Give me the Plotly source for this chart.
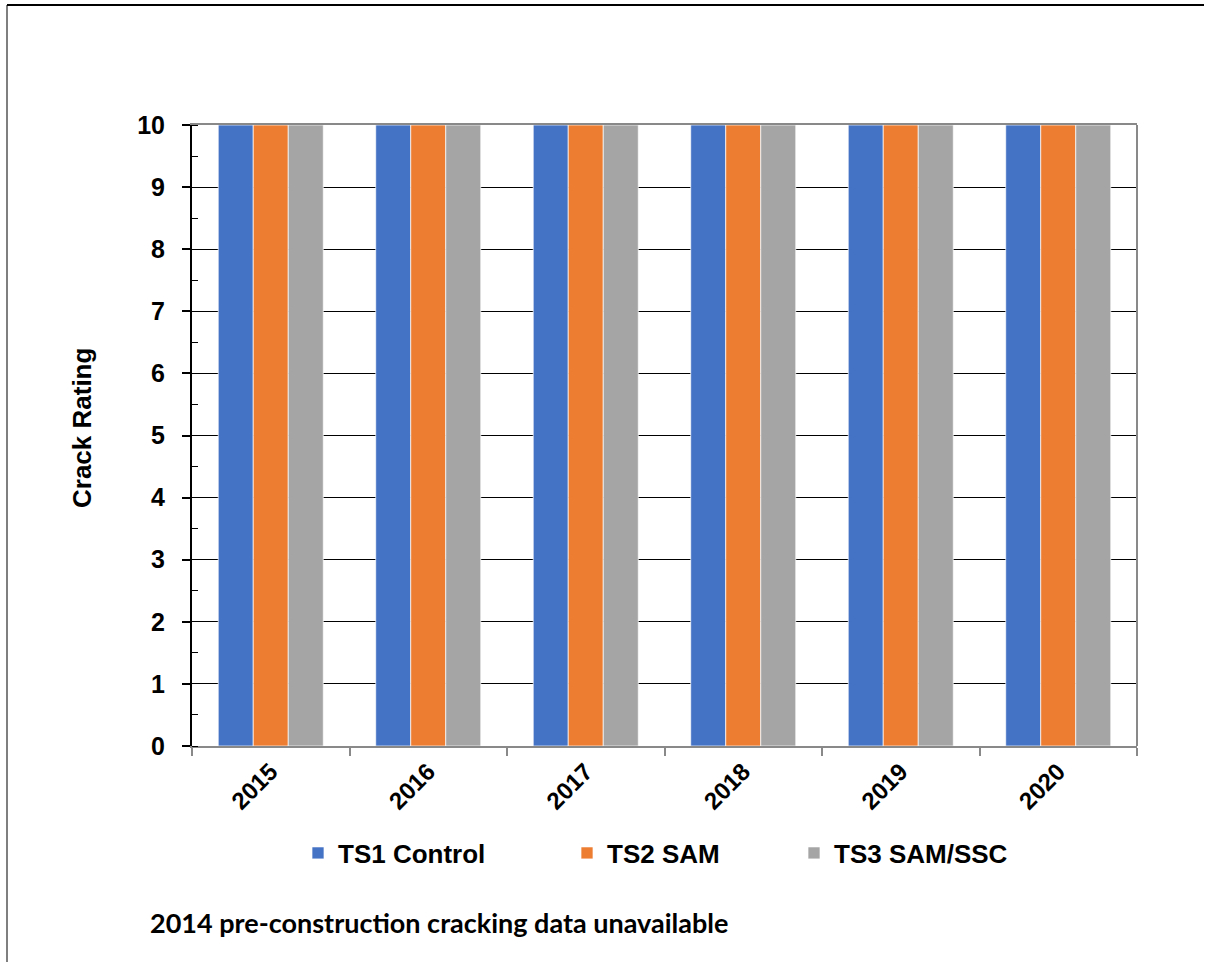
import plotly.graph_objects as go

# Crack rating by survey year for each test section
years = ["2015", "2016", "2017", "2018", "2019", "2020"]
ts1_control = [10, 10, 10, 10, 10, 10]
ts2_sam = [10, 10, 10, 10, 10, 10]
ts3_sam_ssc = [10, 10, 10, 10, 10, 10]

series_names = ["TS1 Control", "TS2 SAM", "TS3 SAM/SSC"]
series_values = [ts1_control, ts2_sam, ts3_sam_ssc]
series_colors = ["#4472C4", "#ED7D31", "#A5A5A5"]
legend_ids = ["legend", "legend2", "legend3"]

W, H = 1205, 962
L, R, T, B = 192, 68, 125, 216
pw, ph = W - L - R, H - T - B


def px_x(x):
    return (x - L) / pw


def px_y(y):
    return (H - B - y) / ph


FONT = "Liberation Sans, Arial, sans-serif"

fig = go.Figure()
for name, vals, color, lg in zip(series_names, series_values, series_colors, legend_ids):
    fig.add_trace(go.Bar(
        x=years, y=vals, name=name, legend=lg,
        marker=dict(color=color, line=dict(color="rgba(255,255,255,0.7)", width=1)),
    ))

legend_x = [298, 567, 794]
leg_common = dict(
    orientation="h", yanchor="middle", xanchor="left",
    font=dict(family=FONT, size=26, color="black", weight="bold"),
    bgcolor="rgba(0,0,0,0)", borderwidth=0, itemwidth=30,
)
fig.update_layout(
    legend=dict(x=px_x(legend_x[0]), y=px_y(853), **leg_common),
    legend2=dict(x=px_x(legend_x[1]), y=px_y(853), **leg_common),
    legend3=dict(x=px_x(legend_x[2]), y=px_y(853), **leg_common),
)

fig.update_layout(
    width=W, height=H,
    margin=dict(l=L, r=R, t=T, b=B, autoexpand=False),
    paper_bgcolor="white", plot_bgcolor="white",
    barmode="group", bargap=0.333, bargroupgap=0,
    showlegend=True,
    xaxis=dict(
        type="category", tickangle=-45, tickson="boundaries",
        ticks="outside", ticklen=8, tickwidth=2, tickcolor="#898989",
        showline=True, linecolor="#898989", linewidth=2, mirror=True,
        showgrid=False,
        tickfont=dict(family=FONT, size=24, color="black", weight="bold"),
    ),
    yaxis=dict(
        range=[0, 10], dtick=1, tick0=0,
        ticks="outside", ticklen=8, tickwidth=1.5, tickcolor="black",
        showline=True, linecolor="black", linewidth=2,
        showgrid=True, gridcolor="black", gridwidth=1,
        zeroline=False,
        minor=dict(dtick=0.5, ticks="inside", ticklen=6, tickcolor="black", tickwidth=1, showgrid=False),
        tickfont=dict(family=FONT, size=25, color="black", weight="bold"),
        ticklabelstandoff=12,
    ),
)

# Right edge of the plot frame
fig.add_shape(type="line", xref="paper", yref="paper", x0=1, x1=1, y0=0, y1=1,
              line=dict(color="#898989", width=2))
# Outer chart border (left and top)
fig.add_shape(type="line", xref="paper", yref="paper",
              x0=px_x(7), x1=px_x(7), y0=px_y(5), y1=px_y(H + 5),
              line=dict(color="#7f7f7f", width=2))
fig.add_shape(type="line", xref="paper", yref="paper",
              x0=px_x(7), x1=px_x(W - 1), y0=px_y(5), y1=px_y(5),
              line=dict(color="black", width=2))

# Axis title
fig.add_annotation(
    text="Crack Rating", xref="paper", yref="paper",
    x=px_x(82), y=px_y(428), textangle=-90, showarrow=False,
    xanchor="center", yanchor="middle",
    font=dict(family=FONT, size=26, color="black", weight="bold"),
)
# Footnote
fig.add_annotation(
    text="2014 pre-construction cracking data unavailable", xref="paper", yref="paper",
    x=px_x(148), y=px_y(922), showarrow=False, xanchor="left", yanchor="middle",
    font=dict(family="Lato, Carlito, sans-serif", size=27, color="black", weight="bold"),
)

fig.write_html("out.html", config=dict(displayModeBar=False))
